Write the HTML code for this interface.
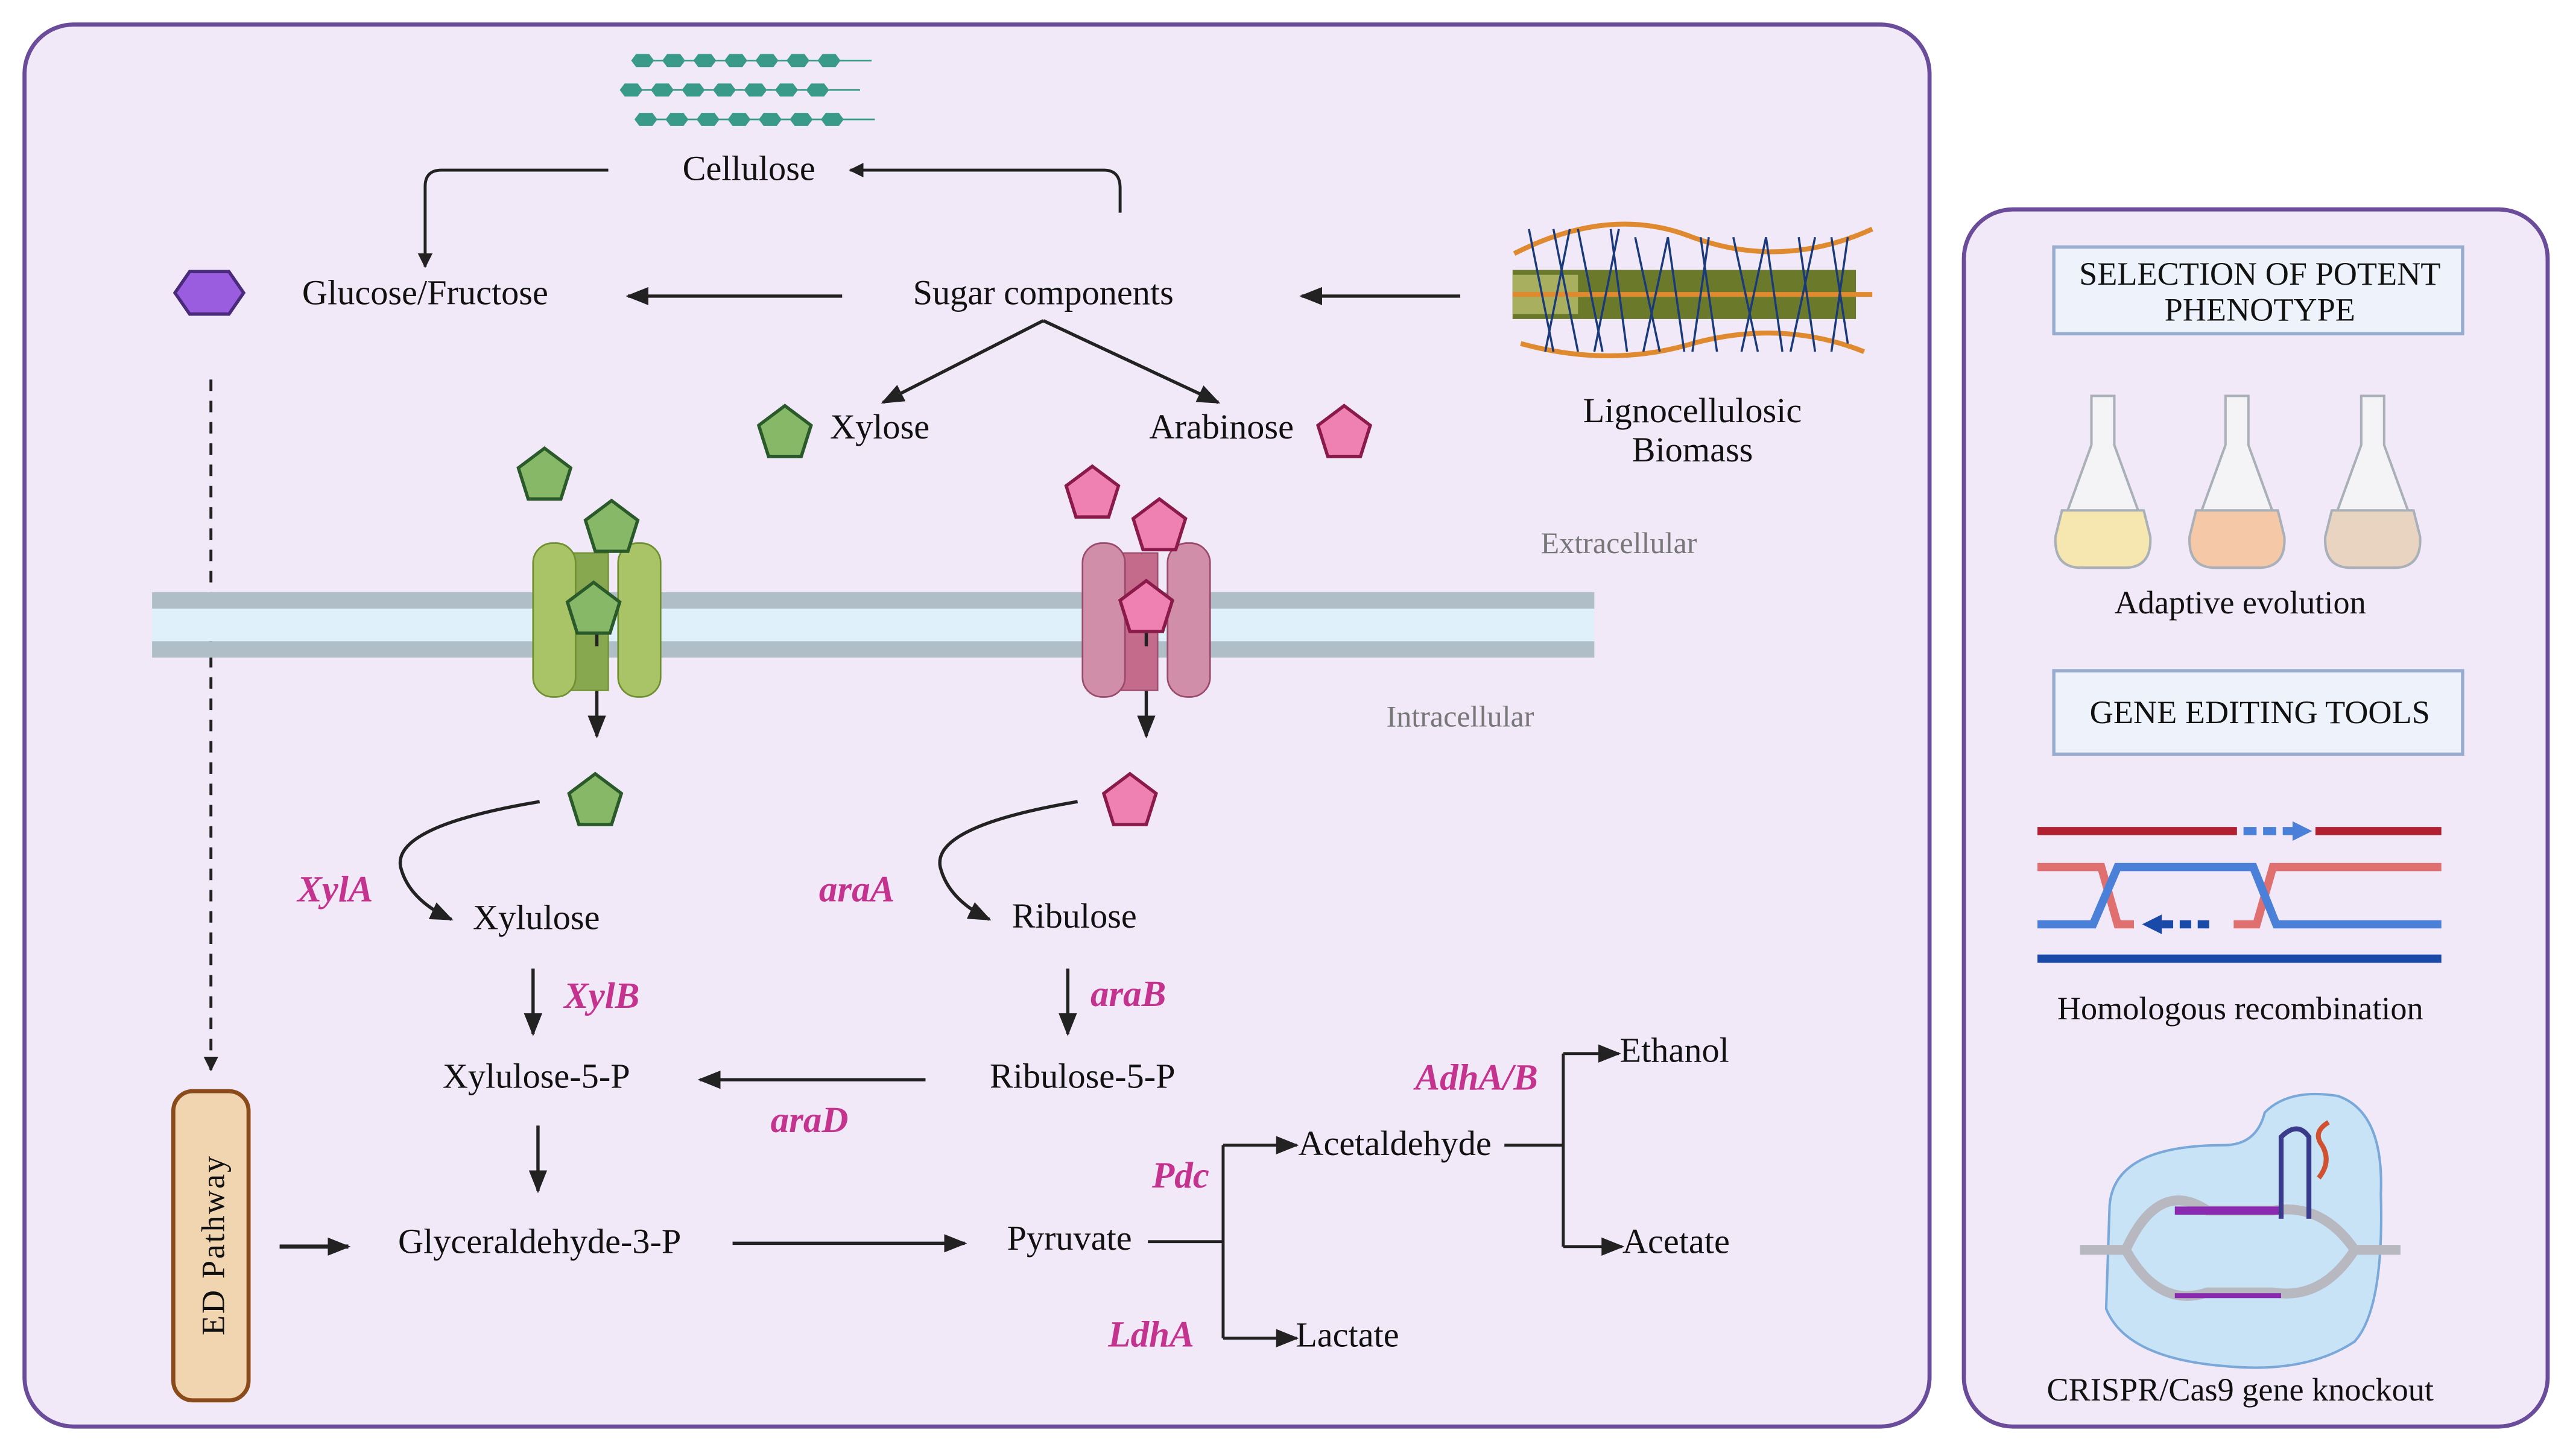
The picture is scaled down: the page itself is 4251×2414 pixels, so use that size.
<!DOCTYPE html>
<html><head><meta charset="utf-8"><style>
html,body{margin:0;padding:0;background:#fff;}
svg{display:block;}
text{font-family:"Liberation Serif",serif;}
</style></head><body>
<svg width="4251" height="2414" viewBox="0 0 1568 890" preserveAspectRatio="none" xmlns="http://www.w3.org/2000/svg">
<defs>
<marker id="ah" viewBox="0 0 10 10" refX="9" refY="5" markerWidth="9" markerHeight="9" orient="auto-start-reverse" markerUnits="userSpaceOnUse"><path d="M0,0 L10,5 L0,10 z" fill="#222"/></marker>
<marker id="ah2" viewBox="0 0 10 10" refX="9" refY="5" markerWidth="14" markerHeight="14" orient="auto" markerUnits="userSpaceOnUse"><path d="M0,1 L10,5 L0,9 z" fill="#222"/></marker>
<polygon id="pg" points="0,-16 16,-4 10,15 -10,15 -16,-4" stroke-width="2"/>
<polygon id="hx" points="-4,-4 4,-4 7,0 4,4 -4,4 -7,0" fill="#3a9a8a"/>
</defs>
<rect width="1568" height="890" fill="#fff"/>
<rect x="15" y="15" width="1165" height="857" rx="30" fill="#f2e9f8" stroke="#6b4c9a" stroke-width="2.5"/>
<rect x="1201" y="128" width="357" height="744" rx="30" fill="#f2e9f8" stroke="#6b4c9a" stroke-width="2.5"/>

<g>
<g transform="translate(393,37)"><use href="#hx"/><use href="#hx" x="19"/><use href="#hx" x="38"/><use href="#hx" x="57"/><use href="#hx" x="76"/><use href="#hx" x="95"/><use href="#hx" x="114"/><line x1="0" y1="0" x2="140" y2="0" stroke="#3a9a8a" stroke-width="1"/></g>
<g transform="translate(386,55)"><use href="#hx"/><use href="#hx" x="19"/><use href="#hx" x="38"/><use href="#hx" x="57"/><use href="#hx" x="76"/><use href="#hx" x="95"/><use href="#hx" x="114"/><line x1="0" y1="0" x2="140" y2="0" stroke="#3a9a8a" stroke-width="1"/></g>
<g transform="translate(395,73)"><use href="#hx"/><use href="#hx" x="19"/><use href="#hx" x="38"/><use href="#hx" x="57"/><use href="#hx" x="76"/><use href="#hx" x="95"/><use href="#hx" x="114"/><line x1="0" y1="0" x2="140" y2="0" stroke="#3a9a8a" stroke-width="1"/></g>
</g>

<g font-size="21.5" fill="#111" text-anchor="middle">
<text x="458" y="110">Cellulose</text>
<text x="260" y="186">Glucose/Fructose</text>
<text x="638" y="186">Sugar components</text>
<text x="538" y="268">Xylose</text>
<text x="747" y="268">Arabinose</text>
<text x="1035" y="258">Lignocellulosic</text>
<text x="1035" y="282">Biomass</text>
<text x="328" y="568">Xylulose</text>
<text x="657" y="567">Ribulose</text>
<text x="328" y="665">Xylulose-5-P</text>
<text x="662" y="665">Ribulose-5-P</text>
<text x="330" y="766">Glyceraldehyde-3-P</text>
<text x="654" y="764">Pyruvate</text>
<text x="853" y="706">Acetaldehyde</text>
<text x="1024" y="649">Ethanol</text>
<text x="1025" y="766">Acetate</text>
<text x="824" y="823">Lactate</text>
<text x="1370" y="375" font-size="20">Adaptive evolution</text>
<text x="1370" y="623" font-size="20">Homologous recombination</text>
<text x="1370" y="856" font-size="20">CRISPR/Cas9 gene knockout</text>
</g>
<g font-size="18.5" fill="#777" text-anchor="middle">
<text x="990" y="338">Extracellular</text>
<text x="893" y="444">Intracellular</text>
</g>
<g font-size="22.5" fill="#c4348f" font-style="italic" font-weight="bold" text-anchor="middle">
<text x="205" y="551">XylA</text>
<text x="524" y="551">araA</text>
<text x="368" y="616">XylB</text>
<text x="690" y="615">araB</text>
<text x="495" y="692">araD</text>
<text x="722" y="726">Pdc</text>
<text x="704" y="823">LdhA</text>
<text x="903" y="666">AdhA/B</text>
</g>

<g fill="none" stroke="#222" stroke-width="1.8">
<path d="M372,104 L270,104 Q260,104 260,114 L260,163" marker-end="url(#ah)"/>
<path d="M685,130 L685,115 Q685,104 675,104 L520,104" marker-end="url(#ah)"/>
<path d="M515,181 L384,181" marker-end="url(#ah2)" stroke-width="2"/>
<path d="M893,181 L796,181" marker-end="url(#ah2)" stroke-width="2"/>
<path d="M638,196 L540,246" marker-end="url(#ah2)" stroke-width="2"/>
<path d="M638,196 L745,246" marker-end="url(#ah2)" stroke-width="2"/>
<path d="M129,232 L129,654" stroke-dasharray="7,6" marker-end="url(#ah)"/>
<path d="M365,395 L365,450" marker-end="url(#ah2)" stroke-width="2"/>
<path d="M701,395 L701,450" marker-end="url(#ah2)" stroke-width="2"/>
<path d="M330,490 Q240,505 245,530 Q250,550 276,562" marker-end="url(#ah2)" stroke-width="2"/>
<path d="M659,490 Q570,505 575,530 Q580,550 605,562" marker-end="url(#ah2)" stroke-width="2"/>
<path d="M326,592 L326,632" marker-end="url(#ah2)" stroke-width="2"/>
<path d="M653,592 L653,632" marker-end="url(#ah2)" stroke-width="2"/>
<path d="M566,660 L428,660" marker-end="url(#ah2)" stroke-width="2"/>
<path d="M329,688 L329,728" marker-end="url(#ah2)" stroke-width="2"/>
<path d="M171,762 L213,762" marker-end="url(#ah2)" stroke-width="2.5"/>
<path d="M448,760 L590,760" marker-end="url(#ah2)" stroke-width="2"/>
<path d="M702,759 L748,759 M748,700 L748,818"/>
<path d="M748,700 L793,700" marker-end="url(#ah2)"/>
<path d="M748,818 L793,818" marker-end="url(#ah2)"/>
<path d="M920,700 L956,700 M956,644 L956,762"/>
<path d="M956,644 L990,644" marker-end="url(#ah2)"/>
<path d="M956,762 L992,762" marker-end="url(#ah2)"/>
</g>

<polygon points="116,166 140,166 149,179 140,192 116,192 107,179" fill="#9b5de0" stroke="#4a2a7a" stroke-width="2"/>

<rect x="93" y="362" width="882" height="10" fill="#b0bec8"/>
<rect x="93" y="372" width="882" height="20" fill="#dff0fb"/>
<rect x="93" y="392" width="882" height="10" fill="#b0bec8"/>

<rect x="348" y="338" width="24" height="84" fill="#88a850" stroke="#6f8f30" stroke-width="0.8"/>
<rect x="326" y="332" width="26" height="94" rx="12" fill="#a9c466" stroke="#6f8f30" stroke-width="1"/>
<rect x="378" y="332" width="26" height="94" rx="12" fill="#a9c466" stroke="#6f8f30" stroke-width="1"/>
<rect x="684" y="338" width="24" height="84" fill="#c46a8a" stroke="#9a4a6a" stroke-width="0.8"/>
<rect x="662" y="332" width="26" height="94" rx="12" fill="#d08ea8" stroke="#9a4a6a" stroke-width="1"/>
<rect x="714" y="332" width="26" height="94" rx="12" fill="#d08ea8" stroke="#9a4a6a" stroke-width="1"/>
<line x1="365" y1="380" x2="365" y2="395" stroke="#222" stroke-width="2"/>
<line x1="701" y1="380" x2="701" y2="395" stroke="#222" stroke-width="2"/>

<g fill="#86b868" stroke="#2a5a2a">
<use href="#pg" x="480" y="264"/>
<use href="#pg" x="333" y="290"/>
<use href="#pg" x="374" y="322"/>
<use href="#pg" x="363" y="372"/>
<use href="#pg" x="364" y="489"/>
</g>
<g fill="#ee80b2" stroke="#8a1a4a">
<use href="#pg" x="822" y="264"/>
<use href="#pg" x="668" y="301"/>
<use href="#pg" x="709" y="321"/>
<use href="#pg" x="701" y="371"/>
<use href="#pg" x="691" y="489"/>
</g>

<g>
<path d="M926,155 Q985,125 1035,145 Q1090,165 1145,140" fill="none" stroke="#e08a30" stroke-width="3"/>
<path d="M930,210 Q985,225 1035,210 Q1090,195 1140,215" fill="none" stroke="#e08a30" stroke-width="3"/>
<rect x="925" y="165" width="210" height="30" fill="#6a7a2a"/>
<rect x="925" y="168" width="40" height="24" fill="#a8b060"/>
<line x1="925" y1="180" x2="1145" y2="180" stroke="#e08a30" stroke-width="3"/>
<path d="M935,140 L950,215 M950,140 L965,215 M965,140 L980,215 M985,140 L995,215 M1000,145 L1015,215 M1020,145 L1030,215 M1040,145 L1050,215 M1060,145 L1075,215 M1080,145 L1090,215 M1100,145 L1110,215 M1120,145 L1130,210 M945,215 L960,140 M975,215 L990,140 M1005,215 L1020,145 M1035,215 L1045,145 M1065,215 L1080,145 M1095,215 L1110,145 M1120,215 L1130,145" stroke="#1a3a7a" stroke-width="1.3" fill="none"/>
</g>

<rect x="106" y="667" width="46" height="189" rx="12" fill="#f0d5b0" stroke="#8a4a1a" stroke-width="2.5"/>
<text transform="translate(137,761) rotate(-90)" text-anchor="middle" font-size="20" fill="#111" letter-spacing="1">ED Pathway</text>

<rect x="1256" y="151" width="250" height="53" fill="#eef2fa" stroke="#98acd0" stroke-width="2"/>
<text x="1382" y="174" text-anchor="middle" font-size="20" fill="#111">SELECTION OF POTENT</text>
<text x="1382" y="196" text-anchor="middle" font-size="20" fill="#111">PHENOTYPE</text>
<rect x="1256" y="410" width="250" height="51" fill="#eef2fa" stroke="#98acd0" stroke-width="2"/>
<text x="1382" y="442" text-anchor="middle" font-size="20" fill="#111">GENE EDITING TOOLS</text>

<g stroke="#aab0b8" stroke-width="1.5">
<path d="M1279,242 h14 v30 l20,55 q3,18 -14,20 h-26 q-17,-2 -14,-20 l20,-55 z" fill="#f4f4f6"/>
<path d="M1261,312 h50 l4,16 q1,18 -14,19 h-30 q-15,-1 -14,-19 z" fill="#f6e6b0"/>
<path d="M1361,242 h14 v30 l20,55 q3,18 -14,20 h-26 q-17,-2 -14,-20 l20,-55 z" fill="#f4f4f6"/>
<path d="M1343,312 h50 l4,16 q1,18 -14,19 h-30 q-15,-1 -14,-19 z" fill="#f5c8a8"/>
<path d="M1444,242 h14 v30 l20,55 q3,18 -14,20 h-26 q-17,-2 -14,-20 l20,-55 z" fill="#f4f4f6"/>
<path d="M1426,312 h50 l4,16 q1,18 -14,19 h-30 q-15,-1 -14,-19 z" fill="#e8d4c0"/>
</g>

<g stroke-width="5" fill="none">
<path d="M1246,508 H1368 M1416,508 H1493" stroke="#b02030"/>
<path d="M1372,508 H1404" stroke="#4a80d8" stroke-dasharray="8,4"/>
<polygon points="1402,502 1414,508 1402,514" fill="#4a80d8" stroke="none"/>
<path d="M1246,530 H1285 L1295,565 H1305 M1366,565 H1380 L1390,530 H1493" stroke="#e07070"/>
<path d="M1246,565 H1280 L1295,530 H1378 L1392,565 H1493" stroke="#4a80d8"/>
<path d="M1322,565 H1352" stroke="#1a4aa8" stroke-dasharray="7,4"/>
<polygon points="1322,559 1310,565 1322,571" fill="#1a4aa8" stroke="none"/>
<path d="M1246,586 H1493" stroke="#1a4aa8"/>
</g>

<path d="M1290,740 Q1290,700 1360,700 Q1380,700 1385,680 Q1400,665 1430,670 Q1458,680 1456,730 Q1458,800 1440,820 Q1410,840 1360,835 Q1300,830 1288,800 Z" fill="#c8e2f6" stroke="#7aa8d8" stroke-width="1.5"/>
<path d="M1272,764 H1300 Q1320,720 1350,740 H1390 Q1420,735 1440,764 H1468" fill="none" stroke="#b8b8c0" stroke-width="6"/>
<path d="M1300,764 Q1320,800 1350,790 H1390 Q1420,795 1440,764" fill="none" stroke="#b8b8c0" stroke-width="6"/>
<path d="M1330,740 H1395" stroke="#8a2ab0" stroke-width="5"/>
<path d="M1330,792 H1395" stroke="#8a2ab0" stroke-width="3"/>
<path d="M1395,745 V695 Q1405,685 1412,695 V745" fill="none" stroke="#3a3a8a" stroke-width="3"/>
<path d="M1418,720 q8,-10 2,-20 q-6,-8 4,-14" fill="none" stroke="#d05030" stroke-width="3"/>
</svg>
</body></html>
